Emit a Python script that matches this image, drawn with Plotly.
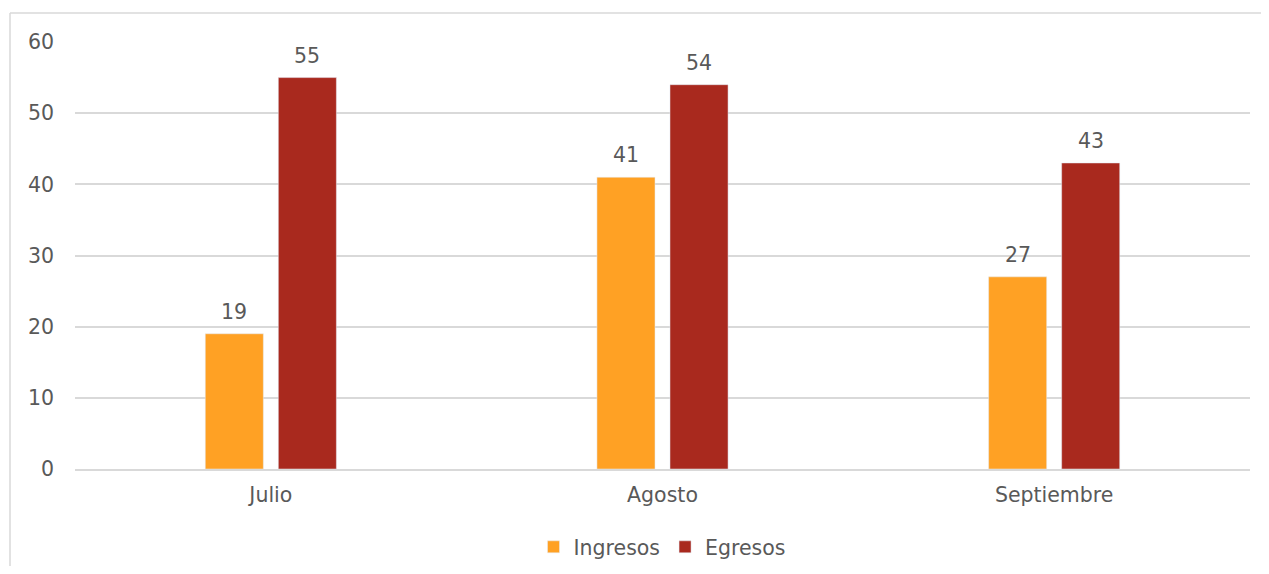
import plotly.graph_objects as go

categories = ["Julio", "Agosto", "Septiembre"]
ingresos = [19, 41, 27]
egresos = [55, 54, 43]
y_ticks = [0, 10, 20, 30, 40, 50, 60]

FONT = "DejaVu Sans"
GRAY = "#595959"
FS = 20.5

fig = go.Figure()
fig.add_trace(go.Bar(name="Ingresos", x=categories, y=ingresos, marker_color="#FFA124"))
fig.add_trace(go.Bar(name="Egresos", x=categories, y=egresos, marker_color="#A9291E"))

# data labels above bars
for series, shift in ((ingresos, -36.5), (egresos, 36.5)):
    for c, v in zip(categories, series):
        fig.add_annotation(x=c, y=v, xref="x", yref="y", text=str(v), showarrow=False,
                           xshift=shift, yshift=8, yanchor="bottom",
                           font=dict(size=FS, color=GRAY, family=FONT))

fig.update_layout(
    width=1253, height=558,
    margin=dict(l=67, r=11, t=34, b=97, autoexpand=False),
    paper_bgcolor="white", plot_bgcolor="white",
    barmode="group", bargap=0.627, bargroupgap=0.205,
    font=dict(family=FONT, color=GRAY, size=FS),
    legend=dict(orientation="h", x=0.5, xanchor="center", yref="container",
                y=1 - 539/558, yanchor="middle",
                itemwidth=30, font=dict(size=FS, color=GRAY, family=FONT)),
)
fig.update_yaxes(range=[0, 60], tickvals=y_ticks, showgrid=True, gridcolor="#D9D9D9",
                 gridwidth=1.5, zeroline=False, showline=False, ticks="",
                 ticklabelstandoff=20, tickfont=dict(size=FS, color=GRAY, family=FONT))
fig.update_xaxes(showline=True, linecolor="#D9D9D9", linewidth=1.5, ticks="",
                 ticklabelstandoff=7, tickfont=dict(size=FS, color=GRAY, family=FONT))

# chart border (partially visible: left and top edges)
fig.add_shape(type="line", xref="paper", yref="paper", x0=-65/1175, x1=-65/1175,
              y0=1 + 29/427, y1=-2, line=dict(color="#D9D9D9", width=1.5))
fig.add_shape(type="line", xref="paper", yref="paper", x0=-65/1175, x1=2,
              y0=1 + 29/427, y1=1 + 29/427, line=dict(color="#D9D9D9", width=1.5))

fig.write_html("out.html")
